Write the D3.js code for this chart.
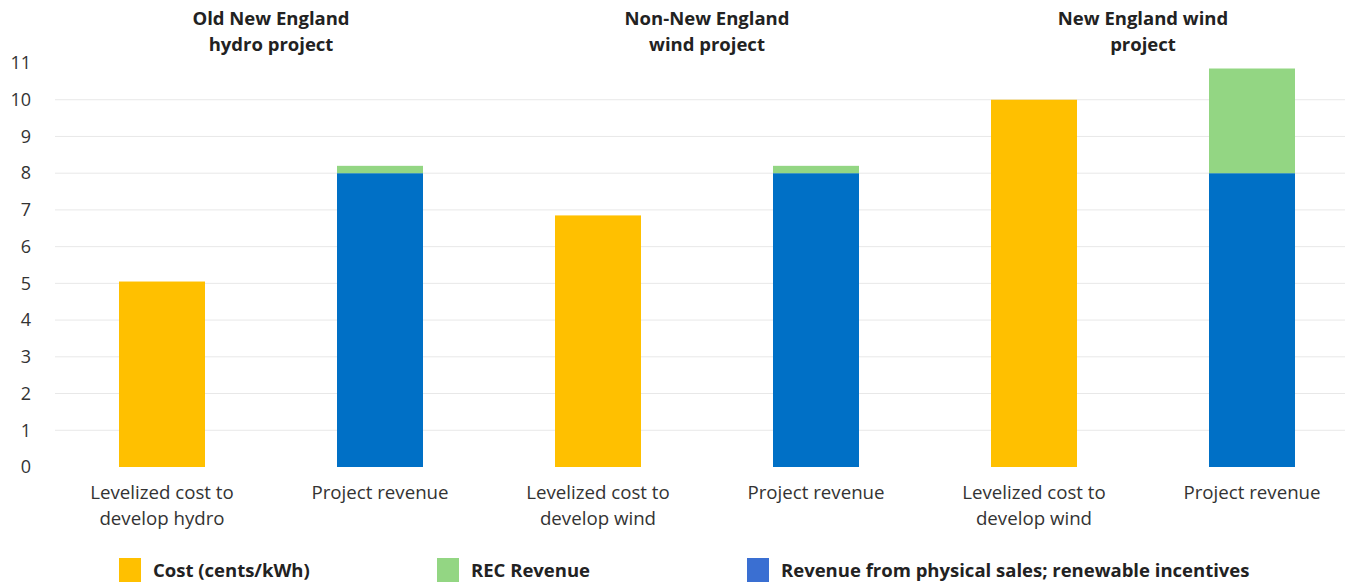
<!DOCTYPE html>
<html>
<head>
<meta charset="utf-8">
<script src="https://cdn.jsdelivr.net/npm/d3@7"></script>
<style>
  html, body { margin: 0; padding: 0; background: #fff; }
  svg { display: block; font-family: "Open Sans", sans-serif; }
</style>
</head>
<body>
<svg id="chart" width="1345" height="584"></svg>
<script>
// Bar categories (two-line labels) and the project group each belongs to
const categories = ["hydroCost", "hydroRev", "nonNEWindCost", "nonNEWindRev", "neWindCost", "neWindRev"];
const categoryLabels = [
  ["Levelized cost to", "develop hydro"],
  ["Project revenue"],
  ["Levelized cost to", "develop wind"],
  ["Project revenue"],
  ["Levelized cost to", "develop wind"],
  ["Project revenue"]
];
const groupTitles = [
  ["Old New England", "hydro project"],
  ["Non-New England", "wind project"],
  ["New England wind", "project"]
];

// Series values (cents/kWh)
const costValues    = [5.05, 0, 6.85, 0, 10.0, 0];
const physicalSales = [0, 8.0, 0, 8.0, 0, 8.0];
const recRevenue    = [0, 0.2, 0, 0.2, 0, 2.85];

const yTicks = [0, 1, 2, 3, 4, 5, 6, 7, 8, 9, 10, 11];
const seriesNames = ["Cost (cents/kWh)", "REC Revenue", "Revenue from physical sales; renewable incentives"];

const colors = {
  cost: "#ffc000",
  rec: "#93d683",
  sales: "#0070c6"
};
const legendColors = ["#ffc000", "#93d683", "#3a6fd2"];

const svg = d3.select("#chart");

const y = d3.scaleLinear().domain([0, 11]).range([467, 63]);
const x = d3.scaleBand()
  .domain(categories)
  .range([53.6, 1360.4])
  .paddingInner(0.6055)
  .paddingOuter(0.3);

// Gridlines
svg.append("g")
  .selectAll("line")
  .data(yTicks.filter(d => d > 0 && d < 11))
  .join("line")
  .attr("x1", 55)
  .attr("x2", 1345)
  .attr("y1", d => y(d))
  .attr("y2", d => y(d))
  .attr("stroke", "#e8e8e8")
  .attr("stroke-width", 1);

// Y axis tick labels
const yAxis = d3.axisLeft(y).tickValues(yTicks).tickSize(0).tickPadding(0);
const gy = svg.append("g")
  .attr("transform", "translate(31,0)")
  .call(yAxis);
gy.select(".domain").remove();
gy.selectAll("text")
  .attr("font-family", "'Open Sans', sans-serif")
  .attr("font-size", 18)
  .attr("fill", "#333");

// Stacked layers
const rows = categories.map((c, i) => ({
  cat: c,
  cost: costValues[i],
  sales: physicalSales[i],
  rec: recRevenue[i]
}));
const stack = d3.stack().keys(["cost", "sales", "rec"]);
const layers = stack(rows);

svg.append("g")
  .selectAll("g")
  .data(layers)
  .join("g")
  .attr("fill", d => colors[d.key])
  .selectAll("rect")
  .data(d => d.filter(s => s[1] - s[0] > 0))
  .join("rect")
  .attr("x", d => x(d.data.cat))
  .attr("width", x.bandwidth())
  .attr("y", d => y(d[1]))
  .attr("height", d => y(d[0]) - y(d[1]));

// Category labels under bars
const catG = svg.append("g")
  .attr("font-size", 18.7)
  .attr("fill", "#333")
  .attr("text-anchor", "middle");
categories.forEach((c, i) => {
  const t = catG.append("text")
    .attr("x", x(c) + x.bandwidth() / 2)
    .attr("y", 499);
  categoryLabels[i].forEach((line, j) => {
    t.append("tspan")
      .attr("x", x(c) + x.bandwidth() / 2)
      .attr("dy", j === 0 ? 0 : 26)
      .text(line);
  });
});

// Group titles above each pair of bars
const titleG = svg.append("g")
  .attr("font-size", 18.5)
  .attr("font-weight", "bold")
  .attr("fill", "#222")
  .attr("text-anchor", "middle");
groupTitles.forEach((lines, g) => {
  const a = categories[g * 2], b = categories[g * 2 + 1];
  const cx = (x(a) + x(b) + x.bandwidth()) / 2;
  const t = titleG.append("text").attr("x", cx).attr("y", 25);
  lines.forEach((line, j) => {
    t.append("tspan").attr("x", cx).attr("dy", j === 0 ? 0 : 26).text(line);
  });
});

// Legend
const legendX = [119, 437, 747];
const legend = svg.append("g");
seriesNames.forEach((name, i) => {
  legend.append("rect")
    .attr("x", legendX[i])
    .attr("y", 558)
    .attr("width", 22)
    .attr("height", 24)
    .attr("fill", legendColors[i]);
  legend.append("text")
    .attr("x", legendX[i] + 34)
    .attr("y", 577)
    .attr("font-size", 18.5)
    .attr("font-weight", "bold")
    .attr("fill", "#222")
    .text(name);
});
</script>
</body>
</html>
